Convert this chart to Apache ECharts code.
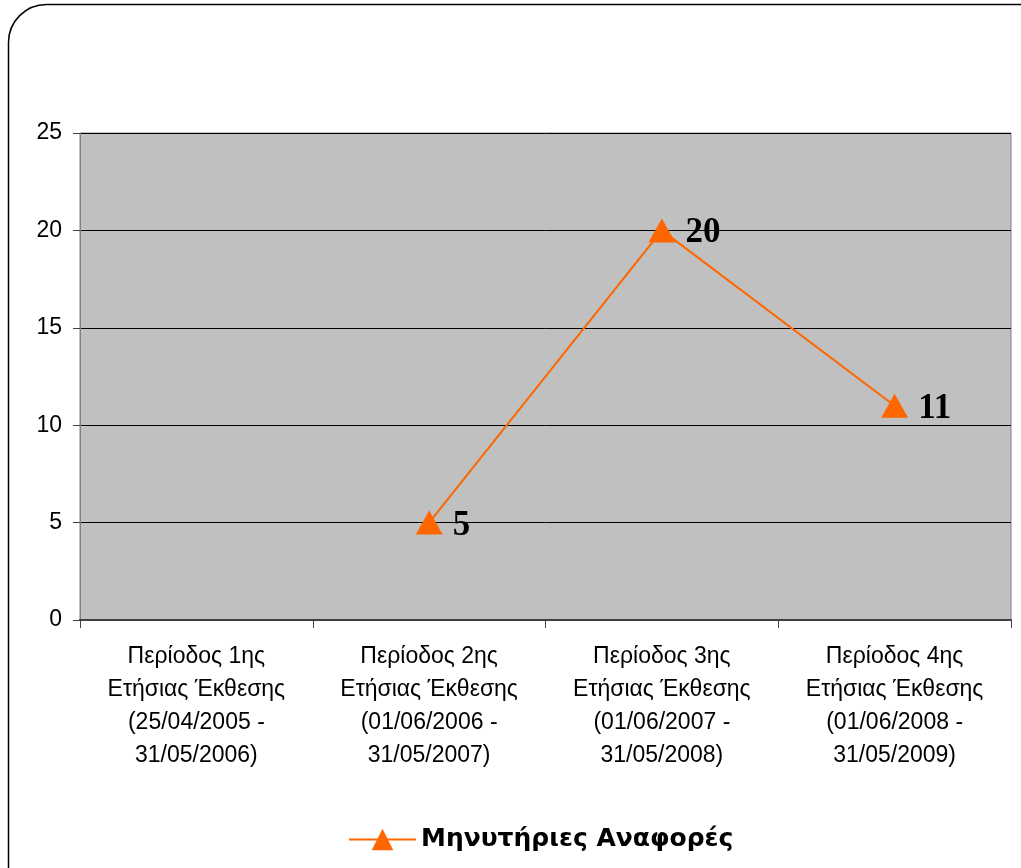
<!DOCTYPE html>
<html>
<head>
<meta charset="utf-8">
<script src="https://cdn.jsdelivr.net/npm/echarts@6/dist/echarts.min.js"></script>
<style>
  html, body { margin: 0; padding: 0; background: #ffffff; }
  #chart { width: 1021px; height: 868px; }
</style>
</head>
<body>
<div id="chart"></div>
<script>
// Reporting periods of the annual reports
const categories = [
  'Περίοδος 1ης\nΕτήσιας Έκθεσης\n(25/04/2005 -\n31/05/2006)',
  'Περίοδος 2ης\nΕτήσιας Έκθεσης\n(01/06/2006 -\n31/05/2007)',
  'Περίοδος 3ης\nΕτήσιας Έκθεσης\n(01/06/2007 -\n31/05/2008)',
  'Περίοδος 4ης\nΕτήσιας Έκθεσης\n(01/06/2008 -\n31/05/2009)'
];
// Number of reports per period (no value for the first period)
const reports = [null, 5, 20, 11];
const seriesName = 'Μηνυτήριες Αναφορές';
const yTicks = [0, 5, 10, 15, 20, 25];

const chart = echarts.init(document.getElementById('chart'), null, { renderer: 'canvas' });

chart.setOption({
  animation: false,
  backgroundColor: '#ffffff',
  graphic: [{
    type: 'rect',
    z: -1,
    shape: { x: 8.5, y: 4.5, width: 1060, height: 920, r: 38 },
    style: { fill: 'none', stroke: '#000000', lineWidth: 1.5 }
  }],
  grid: {
    left: 80, top: 133, width: 931, height: 487,
    show: true, backgroundColor: '#c0c0c0', borderColor: '#808080', borderWidth: 1
  },
  legend: {
    data: [seriesName],
    bottom: 11,
    left: 343,
    itemWidth: 67,
    itemHeight: 27,
    itemGap: 8,
    textStyle: { fontFamily: 'DejaVu Sans', fontWeight: 'bold', fontSize: 25, color: '#000000' }
  },
  xAxis: {
    type: 'category',
    data: categories,
    boundaryGap: true,
    axisLine: { lineStyle: { color: '#404040', width: 2 } },
    axisTick: { show: true, length: 8, lineStyle: { color: '#404040' } },
    axisLabel: {
      interval: 0,
      margin: 20,
      fontFamily: 'Liberation Sans',
      fontSize: 23,
      lineHeight: 33,
      color: '#000000'
    },
    splitLine: { show: false }
  },
  yAxis: {
    type: 'value',
    min: yTicks[0],
    max: yTicks[yTicks.length - 1],
    interval: 5,
    axisLine: { show: true, lineStyle: { color: '#808080' } },
    axisTick: { show: true, inside: false, length: 7, lineStyle: { color: '#404040' } },
    axisLabel: { margin: 18, fontFamily: 'Liberation Sans', fontSize: 23, color: '#000000' },
    splitLine: { show: true, lineStyle: { color: '#000000', width: 1 } }
  },
  series: [{
    name: seriesName,
    type: 'line',
    data: reports,
    connectNulls: false,
    symbol: 'triangle',
    symbolSize: [27, 24],
    itemStyle: { color: '#ff6600' },
    lineStyle: { color: '#ff6600', width: 2 },
    label: {
      show: true,
      position: 'right',
      distance: 10,
      offset: [0, 3],
      fontFamily: 'Liberation Serif',
      fontWeight: 'bold',
      fontSize: 35,
      color: '#000000'
    }
  }]
});
</script>
</body>
</html>
